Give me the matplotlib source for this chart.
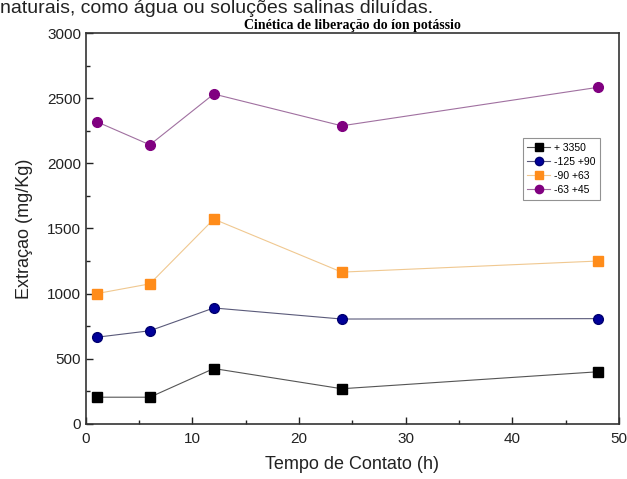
import matplotlib
matplotlib.use("Agg")
import matplotlib.pyplot as plt
from matplotlib.ticker import MultipleLocator

plt.rcParams["font.family"] = ["Liberation Sans", "DejaVu Sans"]

tempo = [1, 6, 12, 24, 48]
s3350 = [205, 205, 425, 270, 400]
s125_90 = [665, 715, 890, 805, 808]
s90_63 = [1000, 1075, 1572, 1165, 1250]
s63_45 = [2320, 2142, 2532, 2288, 2583]
labels = ["+ 3350", "-125 +90", "-90 +63", "-63 +45"]

fig = plt.figure(figsize=(6.27, 4.79), dpi=100)
ax = fig.add_axes([0.137, 0.115, 0.850, 0.816])

ax.plot(tempo, s3350, color="#555555", lw=0.8, marker="s", ms=6.5,
        mfc="black", mec="black", label=labels[0])
ax.plot(tempo, s125_90, color="#5a5a7a", lw=0.8, marker="o", ms=7,
        mfc="#00009a", mec="#000070", label=labels[1])
ax.plot(tempo, s90_63, color="#f0c890", lw=0.8, marker="s", ms=6.5,
        mfc="#ff8c1a", mec="#ff8c1a", label=labels[2])
ax.plot(tempo, s63_45, color="#a070a0", lw=0.8, marker="o", ms=7,
        mfc="#800080", mec="#800080", label=labels[3])

ax.set_xlim(0, 50)
ax.set_ylim(0, 3000)
ax.xaxis.set_major_locator(MultipleLocator(10))
ax.xaxis.set_minor_locator(MultipleLocator(5))
ax.yaxis.set_major_locator(MultipleLocator(500))
ax.yaxis.set_minor_locator(MultipleLocator(250))
ax.tick_params(which="both", direction="in", top=False, right=False,
               labelsize=11, width=1, colors="#222222")
ax.tick_params(which="major", length=5)
ax.tick_params(which="minor", length=3)
ax.tick_params(axis="x", pad=6)
for sp in ax.spines.values():
    sp.set_linewidth(1.2)
    sp.set_color("#333333")

ax.set_xlabel("Tempo de Contato (h)", fontsize=13, labelpad=7, color="#222222")
ax.set_ylabel("Extraçao (mg/Kg)", fontsize=13, labelpad=10, color="#222222")
ax.set_title("Cinética de liberação do íon potássio", fontsize=10,
             fontweight="bold", family="Liberation Serif", pad=3)

leg = ax.legend(loc="upper left", bbox_to_anchor=(0.81, 0.745), fontsize=7.5,
                frameon=True, fancybox=False, handlelength=2.2,
                handletextpad=0.3, borderpad=0.45, labelspacing=0.4,
                markerscale=0.85)
leg.get_frame().set_edgecolor("#777777")
leg.get_frame().set_linewidth(0.8)

fig.text(0.0, 0.999, "naturais, como água ou soluções salinas diluídas.",
         fontsize=14, ha="left", va="top", color="#222222")

fig.savefig("out.png", dpi=100)
